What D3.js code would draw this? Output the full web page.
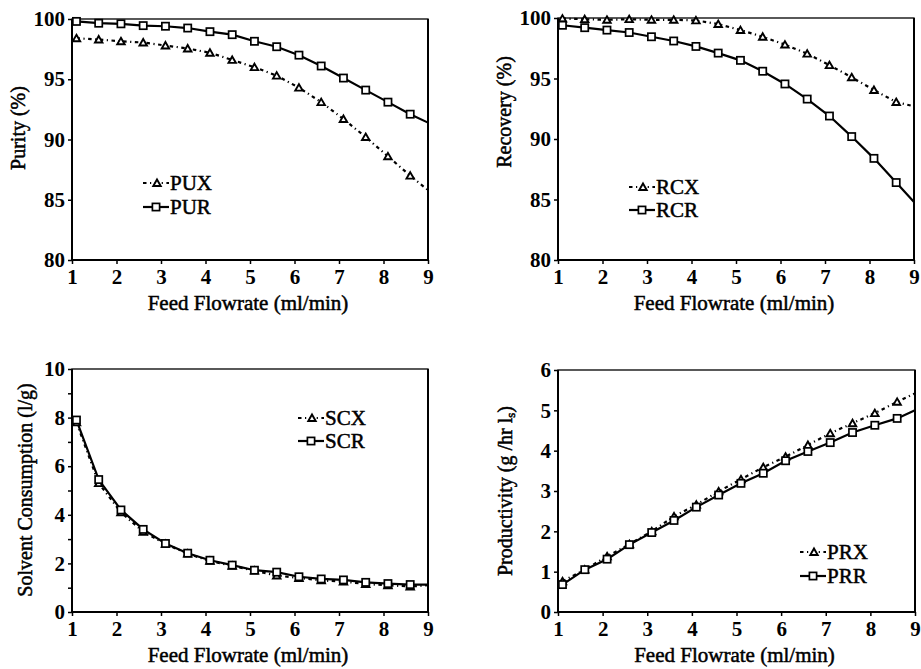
<!DOCTYPE html>
<html>
<head>
<meta charset="utf-8">
<script src="https://cdn.jsdelivr.net/npm/d3@7"></script>
<style>
  html, body { margin: 0; padding: 0; background: #fff; }
  svg { display: block; }
</style>
</head>
<body>
<svg id="chart" width="921" height="669"></svg>
<script>
// Feed flowrates (ml/min) at which every quantity was evaluated
const flowrate = [1.1, 1.6, 2.1, 2.6, 3.1, 3.6, 4.1, 4.6, 5.1, 5.6, 6.1, 6.6, 7.1, 7.6, 8.1, 8.6];
// curves continue to the right edge of each plot
const lineEndFlow = 9;

// Purity (%)
const purityX = [98.4, 98.3, 98.15, 98.05, 97.8, 97.55, 97.2, 96.6, 96.0, 95.3, 94.3, 93.1, 91.7, 90.2, 88.6, 87.0];
const purityXEnd = 85.8;
const purityR = [99.8, 99.65, 99.6, 99.45, 99.4, 99.25, 98.95, 98.7, 98.15, 97.7, 97.0, 96.1, 95.1, 94.1, 93.1, 92.1];
const purityREnd = 91.4;

// Recovery (%)
const recoveryX = [99.95, 99.9, 99.85, 99.9, 99.85, 99.85, 99.8, 99.5, 99.0, 98.45, 97.8, 97.05, 96.1, 95.1, 94.05, 93.05];
const recoveryXEnd = 92.7;
const recoveryR = [99.4, 99.2, 99.0, 98.8, 98.45, 98.1, 97.65, 97.1, 96.5, 95.6, 94.55, 93.3, 91.9, 90.2, 88.4, 86.4];
const recoveryREnd = 84.8;

// Solvent consumption (l/g)
const solventX = [7.8, 5.3, 4.1, 3.3, 2.8, 2.4, 2.1, 1.9, 1.7, 1.5, 1.4, 1.3, 1.25, 1.15, 1.1, 1.05];
const solventXEnd = 1.1;
const solventR = [7.9, 5.45, 4.2, 3.4, 2.82, 2.42, 2.13, 1.93, 1.72, 1.64, 1.45, 1.36, 1.32, 1.22, 1.17, 1.13];
const solventREnd = 1.13;

// Productivity (g/hr l_s)
const prodX = [0.76, 1.05, 1.38, 1.68, 2.0, 2.37, 2.66, 2.99, 3.29, 3.59, 3.85, 4.14, 4.43, 4.68, 4.93, 5.21];
const prodXEnd = 5.42;
const prodR = [0.68, 1.05, 1.31, 1.67, 1.97, 2.27, 2.6, 2.9, 3.19, 3.44, 3.75, 3.98, 4.2, 4.45, 4.63, 4.8];
const prodREnd = 5.0;

// Axis ticks
const xTicks = [1, 2, 3, 4, 5, 6, 7, 8, 9];
const pctTicks = [80, 85, 90, 95, 100];
const solventTicks = [0, 2, 4, 6, 8, 10];
const solventMinorTicks = [1, 3, 5, 7, 9];
const prodTicks = [0, 1, 2, 3, 4, 5, 6];

const xTitle = "Feed Flowrate (ml/min)";
const FONT = "'Liberation Serif', 'Times New Roman', Times, serif";

const svg = d3.select("#chart");

const panels = [
  { box: [72, 19, 428, 260], yDomain: [80, 100], yTicks: pctTicks, yMinor: [],
    yTitle: ["Purity (%)"], yTitleX: 18, yTitleY: 128,
    series: [
      { name: "PUX", values: purityX, end: purityXEnd, kind: "x" },
      { name: "PUR", values: purityR, end: purityREnd, kind: "r" }
    ],
    legend: { x: 143, y: 183, dy: 24 } },
  { box: [558, 18, 914, 260], yDomain: [80, 100], yTicks: pctTicks, yMinor: [],
    yTitle: ["Recovery (%)"], yTitleX: 504, yTitleY: 112,
    series: [
      { name: "RCX", values: recoveryX, end: recoveryXEnd, kind: "x" },
      { name: "RCR", values: recoveryR, end: recoveryREnd, kind: "r" }
    ],
    legend: { x: 629, y: 187, dy: 23 } },
  { box: [72, 369, 428, 612], yDomain: [0, 10], yTicks: solventTicks, yMinor: solventMinorTicks,
    yTitle: ["Solvent Consumption (l/g)"], yTitleX: 25, yTitleY: 490,
    series: [
      { name: "SCX", values: solventX, end: solventXEnd, kind: "x" },
      { name: "SCR", values: solventR, end: solventREnd, kind: "r" }
    ],
    legend: { x: 298, y: 418, dy: 23 } },
  { box: [558, 370, 915, 612], yDomain: [0, 6], yTicks: prodTicks, yMinor: [],
    yTitle: null, yTitleX: 505, yTitleY: 491,
    series: [
      { name: "PRX", values: prodX, end: prodXEnd, kind: "x" },
      { name: "PRR", values: prodR, end: prodREnd, kind: "r" }
    ],
    legend: { x: 800, y: 552, dy: 24 } }
];

const dashX = "3.5,3.5,1.2,3.5";

function triangle(g, cx, cy) {
  g.append("path")
    .attr("d", d3.symbol(d3.symbolTriangle, 24)())
    .attr("transform", `translate(${cx},${cy + 0.8})`)
    .attr("fill", "#fff")
    .attr("stroke", "#000")
    .attr("stroke-width", 1.9);
}
function square(g, cx, cy) {
  g.append("rect")
    .attr("x", cx - 3.6).attr("y", cy - 3.6)
    .attr("width", 7.2).attr("height", 7.2)
    .attr("fill", "#fff")
    .attr("stroke", "#000")
    .attr("stroke-width", 1.7);
}

panels.forEach(p => {
  const [x0, y0, x1, y1] = p.box;
  const x = d3.scaleLinear().domain([1, 9]).range([x0, x1]);
  const y = d3.scaleLinear().domain(p.yDomain).range([y1, y0]);
  const g = svg.append("g");

  // frame
  g.append("rect")
    .attr("x", x0).attr("y", y0)
    .attr("width", x1 - x0).attr("height", y1 - y0)
    .attr("fill", "none").attr("stroke", "#000").attr("stroke-width", 1.3);
  g.append("line").attr("x1", x0).attr("x2", x0).attr("y1", y0).attr("y2", y1)
    .attr("stroke", "#000").attr("stroke-width", 2);
  g.append("line").attr("x1", x0).attr("x2", x1).attr("y1", y1).attr("y2", y1)
    .attr("stroke", "#000").attr("stroke-width", 2);
  g.append("line").attr("x1", x1).attr("x2", x1).attr("y1", y0).attr("y2", y1)
    .attr("stroke", "#000").attr("stroke-width", 2);

  // x axis
  const xa = g.append("g").attr("transform", `translate(0,${y1})`)
    .call(d3.axisBottom(x).tickValues(xTicks).tickSize(4).tickPadding(5).tickFormat(d3.format("d")));
  xa.select(".domain").remove();
  xa.selectAll("line").attr("stroke-width", 1.5);
  xa.selectAll("text")
    .style("font-family", FONT).style("font-size", "21px").style("font-weight", "bold");

  // y axis
  const ya = g.append("g").attr("transform", `translate(${x0},0)`)
    .call(d3.axisLeft(y).tickValues(p.yTicks).tickSize(4).tickPadding(3).tickFormat(d3.format("d")));
  ya.select(".domain").remove();
  ya.selectAll("line").attr("stroke-width", 1.5);
  ya.selectAll("text")
    .style("font-family", FONT).style("font-size", "21px").style("font-weight", "bold");
  if (p.yMinor.length) {
    const ym = g.append("g").attr("transform", `translate(${x0},0)`)
      .call(d3.axisLeft(y).tickValues(p.yMinor).tickSize(4).tickFormat(""));
    ym.select(".domain").remove();
    ym.selectAll("line").attr("stroke-width", 1.5);
  }

  // x title
  g.append("text")
    .attr("x", (x0 + x1) / 2 - 2).attr("y", y1 + 50)
    .attr("text-anchor", "middle")
    .style("font-family", FONT).style("font-size", "21px")
    .attr("stroke", "#000").attr("stroke-width", 0.5)
    .text(xTitle);

  // y title
  const yt = g.append("text")
    .attr("transform", `translate(${p.yTitleX},${p.yTitleY}) rotate(-90)`)
    .attr("text-anchor", "middle")
    .attr("dominant-baseline", "central")
    .style("font-family", FONT).style("font-size", "20px")
    .attr("stroke", "#000").attr("stroke-width", 0.5);
  if (p.yTitle) {
    yt.text(p.yTitle[0]);
  } else {
    yt.append("tspan").text("Productivity (g /hr l");
    yt.append("tspan").style("font-size", "13px").attr("dy", 5).text("s");
    yt.append("tspan").attr("dy", -5).text(")");
  }

  // series
  p.series.forEach(s => {
    const pts = flowrate.map((f, i) => [f, s.values[i]]).concat([[lineEndFlow, s.end]]);
    const line = d3.line().x(d => x(d[0])).y(d => y(d[1]));
    g.append("path")
      .attr("d", line(pts))
      .attr("fill", "none")
      .attr("stroke", "#000")
      .attr("stroke-width", 2.2)
      .attr("stroke-dasharray", s.kind === "x" ? dashX : null);
  });
  p.series.forEach(s => {
    flowrate.forEach((f, i) => {
      if (s.kind === "x") triangle(g, x(f), y(s.values[i]));
      else square(g, x(f), y(s.values[i]));
    });
  });

  // legend
  p.series.forEach((s, i) => {
    const ly = p.legend.y + i * p.legend.dy;
    const lx = p.legend.x;
    g.append("line")
      .attr("x1", lx).attr("x2", lx + 26).attr("y1", ly).attr("y2", ly)
      .attr("stroke", "#000").attr("stroke-width", 2.2)
      .attr("stroke-dasharray", s.kind === "x" ? dashX : null);
    if (s.kind === "x") triangle(g, lx + 14, ly);
    else square(g, lx + 13, ly);
    g.append("text")
      .attr("x", lx + 27).attr("y", ly)
      .attr("dominant-baseline", "central")
      .style("font-family", FONT).style("font-size", "21px")
      .attr("stroke", "#000").attr("stroke-width", 0.5)
      .text(s.name);
  });
});
</script>
</body>
</html>
